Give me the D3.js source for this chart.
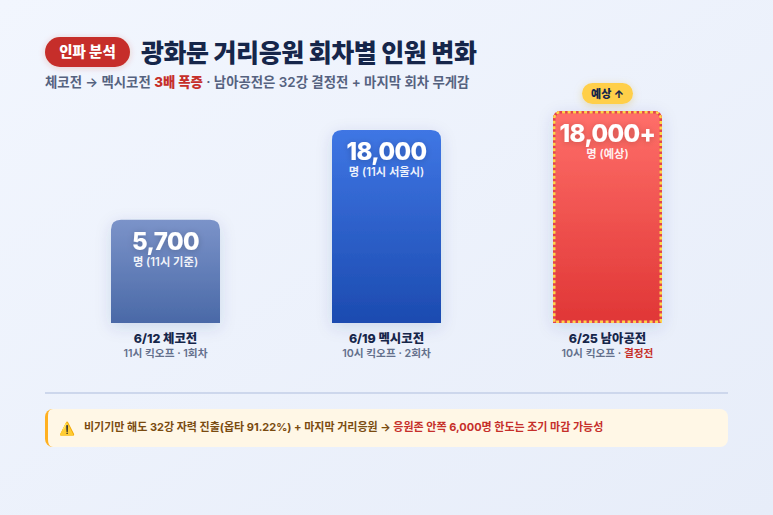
<!DOCTYPE html>
<html><head><meta charset="utf-8">
<script src="https://cdnjs.cloudflare.com/ajax/libs/d3/7.8.5/d3.min.js"></script>
<style>
html,body{margin:0;padding:0;background:#eef2fb;overflow:hidden}
svg{display:block}
text{font-family:Inter,"Noto Sans CJK KR",sans-serif}
</style></head><body>
<svg id="c" width="773" height="515"></svg>
<script>
const categories = ["6/12 체코전", "6/19 멕시코전", "6/25 남아공전"];
const subLabels = ["11시 킥오프 · 1회차", "10시 킥오프 · 2회차", "10시 킥오프 · "];
const subAccent = ["", "", "결정전"];
const plotValues = [5700, 18000, 21400];
const valueLabels = ["5,700", "18,000", "18,000+"];
const unitLabels = ["명 (11시 기준)", "명 (11시 서울시)", "명 (예상)"];
const gradTop = ["#7b93c9", "#3f76e4", "#ff6f69"];
const gradBottom = ["#4a69a7", "#1c4bb0", "#e03636"];

const svg = d3.select("#c");
const W = 773, H = 515;
const defs = svg.append("defs");

const bg = defs.append("linearGradient").attr("id","bg").attr("x1",0).attr("y1",0).attr("x2",1).attr("y2",1);
bg.append("stop").attr("offset",0).attr("stop-color","#f2f6fe");
bg.append("stop").attr("offset",1).attr("stop-color","#e7edf9");
categories.forEach((c,i)=>{
  const g = defs.append("linearGradient").attr("id","g"+i).attr("x1",0).attr("y1",0).attr("x2",0).attr("y2",1);
  g.append("stop").attr("offset",0).attr("stop-color",gradTop[i]);
  g.append("stop").attr("offset",1).attr("stop-color",gradBottom[i]);
});
function shadow(id,dy,sd,color,op){
  const f = defs.append("filter").attr("id",id).attr("x","-40%").attr("y","-40%").attr("width","180%").attr("height","180%");
  f.append("feDropShadow").attr("dx",0).attr("dy",dy).attr("stdDeviation",sd).attr("flood-color",color).attr("flood-opacity",op);
}
shadow("barS",4,8,"#1c3c82",0.14);
shadow("txtS",1,3,"#000000",0.2);
shadow("pillS",2,4,"#c89a00",0.28);
shadow("badgeS",1,3,"#c62f2a",0.22);

svg.append("rect").attr("width",W).attr("height",H).attr("fill","url(#bg)");

// header
svg.append("rect").attr("x",45).attr("y",37).attr("width",85).attr("height",30).attr("rx",15)
  .attr("fill","#c62f2a").attr("filter","url(#badgeS)");
svg.append("text").attr("x",87.5).attr("y",57.3).attr("text-anchor","middle").attr("fill","#fff")
  .attr("font-size",14.5).attr("font-weight",800).text("인파 분석");
svg.append("text").attr("x",141).attr("y",61.5).attr("fill","#16264a").attr("font-size",25)
  .attr("font-weight",800).attr("letter-spacing",-0.47).text("광화문 거리응원 회차별 인원 변화");
const sub = svg.append("text").attr("x",45).attr("y",87).attr("font-size",13.4).attr("font-weight",600).attr("fill","#55627f");
sub.append("tspan").text("체코전 → 멕시코전 ");
sub.append("tspan").attr("fill","#c62f2a").attr("font-weight",800).text("3배 폭증");
sub.append("tspan").text(" · 남아공전은 32강 결정전 + 마지막 회차 무게감");

// scales
const baseY = 323;
const h = d3.scalePow().exponent(0.545).domain([0,18000]).range([0,193]);
const bw = 109;
const x = d3.scalePoint().domain(categories).range([165.5,607.5]);

const bars = svg.append("g").selectAll("g").data(categories).join("g");
function topRounded(x0,y0,w,ht,r){
  return `M${x0},${y0+ht}V${y0+r}Q${x0},${y0} ${x0+r},${y0}H${x0+w-r}Q${x0+w},${y0} ${x0+w},${y0+r}V${y0+ht}Z`;
}
bars.each(function(c,i){
  const g = d3.select(this);
  const cx = x(c);
  const ht = h(plotValues[i]), x0 = cx-bw/2, y0 = baseY-ht;
  g.append("path").attr("d",topRounded(x0,y0,bw,ht,i<2?10:8)).attr("fill",`url(#g${i})`).attr("filter","url(#barS)");
  if(i===2){
    const ins = 1.25;
    const r = ()=>g.append("path").attr("d",topRounded(x0+ins,y0+ins,bw-2*ins,ht-2*ins,7)).attr("fill","none").attr("stroke-width",2.5);
    r().attr("stroke","#e24350");
    r().attr("stroke","#ffd54a").attr("stroke-dasharray","3 2.5");
  }
  g.append("text").attr("x",cx).attr("y",y0+(i===2?31:30)).attr("text-anchor","middle").attr("fill","#fff")
    .attr("font-size",24).attr("font-weight",800).attr("letter-spacing",-0.6).attr("filter","url(#txtS)").text(valueLabels[i]);
  g.append("text").attr("x",cx).attr("y",y0+(i===2?47:46)).attr("text-anchor","middle").attr("fill","#fff").attr("fill-opacity",0.92)
    .attr("font-size",11.3).attr("font-weight",600).text(unitLabels[i]);
  g.append("text").attr("x",cx).attr("y",343).attr("text-anchor","middle").attr("fill","#16264a")
    .attr("font-size",12.4).attr("font-weight",800).text(c);
  const s = g.append("text").attr("x",cx).attr("y",357).attr("text-anchor","middle").attr("fill","#64708c")
    .attr("font-size",10.7).attr("font-weight",600);
  s.append("tspan").text(subLabels[i]);
  if(subAccent[i]) s.append("tspan").attr("fill","#c62f2a").attr("font-weight",700).text(subAccent[i]);
});

// forecast pill
svg.append("rect").attr("x",582).attr("y",83).attr("width",51).attr("height",21).attr("rx",10.5)
  .attr("fill","#ffcf4a").attr("filter","url(#pillS)");
svg.append("text").attr("x",607.5).attr("y",97.5).attr("text-anchor","middle").attr("fill","#16264a")
  .attr("font-size",11).attr("font-weight",800).text("예상 ↑");

// divider
svg.append("rect").attr("x",45).attr("y",392).attr("width",683).attr("height",2).attr("fill","#cdd7ec");

// callout
svg.append("rect").attr("x",45).attr("y",409).attr("width",20).attr("height",38).attr("rx",8).attr("fill","#ffb020");
svg.append("path").attr("d","M53,409H720a8,8 0 0 1 8,8V439a8,8 0 0 1 -8,8H53C49,447 48,443 48,439V417C48,412 49,409 53,409Z").attr("fill","#fff7e6");
svg.append("text").attr("x",59).attr("y",432.5).attr("font-size",13).attr("fill","#ffc107").text("⚠️");
const t = svg.append("text").attr("x",84).attr("y",431).attr("font-size",11).attr("font-weight",700).attr("fill","#7a4b10");
t.append("tspan").text("비기기만 해도 32강 자력 진출(옵타 91.22%) + 마지막 거리응원 → ");
t.append("tspan").attr("fill","#c62f2a").text("응원존 안쪽 6,000명 한도는 조기 마감 가능성");
</script>
</body></html>
